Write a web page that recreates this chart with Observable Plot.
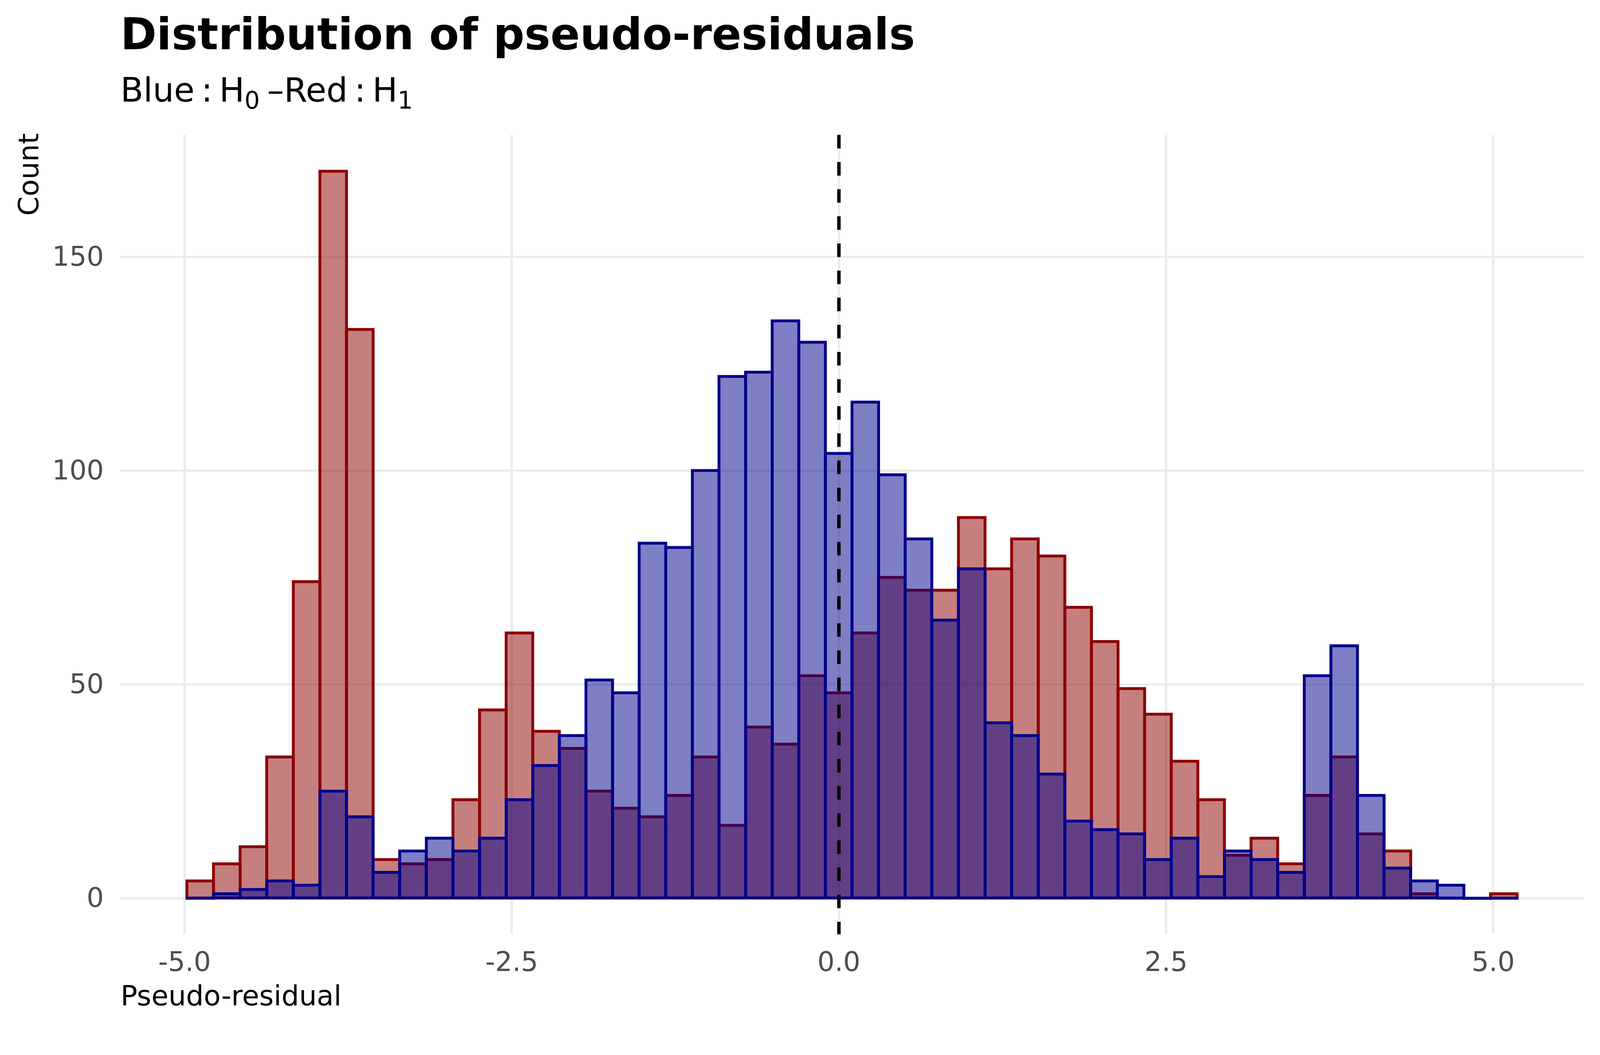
<!DOCTYPE html>
<html><head><meta charset="utf-8">
<script src="https://cdn.jsdelivr.net/npm/d3@7"></script>
<script src="https://cdn.jsdelivr.net/npm/@observablehq/plot@0.6"></script>
<style>
html,body{margin:0;padding:0;background:#fff;width:100%;height:100%;overflow:hidden;}
body{font-family:"DejaVu Sans",sans-serif;}
#root{position:absolute;left:0;top:0;width:4200px;height:2700px;transform-origin:0 0;background:#fff;}
#header{position:relative;width:4200px;height:300px;}
#title{position:absolute;left:316px;top:33px;font-size:114.5px;line-height:114.5px;font-weight:bold;white-space:nowrap;color:#000;}
#subtitle{position:absolute;left:316px;top:193px;font-size:88px;line-height:88px;white-space:nowrap;color:#000;}
.op{display:inline-block;margin:0 0.2em;}
.sb{font-size:0.72em;position:relative;top:0.29em;}
.dash{margin-left:0.22em;}
#chart svg{display:block;max-width:none;}
</style></head><body>
<div id="root">
<div id="header"><div id="title"></div><div id="subtitle"></div></div>
<div id="chart"></div>
</div>
<script>
// ---- text ----
const titleText = "Distribution of pseudo-residuals";
const blueName = "Blue", redName = "Red", hypName = "H", nullSub = "0", altSub = "1";
const xLabel = "Pseudo-residual";
const yLabel = "Count";

// ---- bins (50 bins, shared edges) ----
const binStart = -4.981;
const binWidth = 0.2033;

// Red : H1 counts per bin
const countsH1 = [4, 8, 12, 33, 74, 170, 133, 9, 8, 9, 23, 44, 62, 39, 35, 25, 21, 19, 24, 33, 17, 40, 36, 52, 48,
                  62, 75, 72, 72, 89, 77, 84, 80, 68, 60, 49, 43, 32, 23, 10, 14, 8, 24, 33, 15, 11, 1, 0, 0, 1];
// Blue : H0 counts per bin
const countsH0 = [0, 1, 2, 4, 3, 25, 19, 6, 11, 14, 11, 14, 23, 31, 38, 51, 48, 83, 82, 100, 122, 123, 135, 130, 104,
                  116, 99, 84, 65, 77, 41, 38, 29, 18, 16, 15, 9, 14, 5, 11, 9, 6, 52, 59, 24, 7, 4, 3, 0, 0];

// ---- ticks ----
const xTicks = [-5, -2.5, 0, 2.5, 5];
const xTickLabels = ["-5.0", "-2.5", "0.0", "2.5", "5.0"];
const yTicks = [0, 50, 100, 150];
const refLine = [0];

// ---- colours ----
const redCol = "#8B0000", blueCol = "#00008B";

document.getElementById("title").textContent = titleText;
document.getElementById("subtitle").innerHTML =
  `${blueName}<span class="op">:</span>${hypName}<span class="sb">${nullSub}</span>` +
  `<span class="dash">\u2013</span>${redName}<span class="op">:</span>${hypName}<span class="sb">${altSub}</span>`;

const toBins = counts => counts.map((c, i) => ({x1: binStart + i * binWidth, x2: binStart + (i + 1) * binWidth, count: c}));
const binsH1 = toBins(countsH1);
const binsH0 = toBins(countsH0);

const lo = binStart, hi = binStart + countsH1.length * binWidth;
const padX = 0.05 * (hi - lo);
const maxY = Math.max(...countsH1, ...countsH0);

const barW = 7.5;
const chart = Plot.plot({
  width: 4200, height: 2400,
  marginLeft: 316, marginRight: 43, marginTop: 54, marginBottom: 248,
  style: {fontFamily: "DejaVu Sans", background: "white", overflow: "visible", maxWidth: "none"},
  x: {domain: [lo - padX, hi + padX]},
  y: {domain: [-0.05 * maxY, 1.05 * maxY]},
  marks: [
    Plot.gridX(xTicks, {stroke: "#EBEBEB", strokeOpacity: 1, strokeWidth: 6}),
    Plot.gridY(yTicks, {stroke: "#EBEBEB", strokeOpacity: 1, strokeWidth: 6}),
    Plot.rectY(binsH1, {x1: "x1", x2: "x2", y: "count", inset: 0, fill: redCol, fillOpacity: 0.5, stroke: redCol, strokeWidth: barW}),
    Plot.ruleY(binsH1.filter(d => d.count === 0), {x1: "x1", x2: "x2", y: "count", stroke: redCol, strokeWidth: barW, strokeLinecap: "square"}),
    Plot.rectY(binsH0, {x1: "x1", x2: "x2", y: "count", inset: 0, fill: blueCol, fillOpacity: 0.5, stroke: blueCol, strokeWidth: barW}),
    Plot.ruleY(binsH0.filter(d => d.count === 0), {x1: "x1", x2: "x2", y: "count", stroke: blueCol, strokeWidth: barW, strokeLinecap: "square"}),
    Plot.ruleX(refLine, {stroke: "black", strokeWidth: 9, strokeDasharray: "35.6,35.6"}),
    Plot.axisX({ticks: xTicks, tickSize: 0, tickPadding: 45, tickFormat: d => xTickLabels[xTicks.indexOf(d)], fontSize: 71, color: "#4D4D4D", label: null}),
    Plot.axisY({ticks: yTicks, tickSize: 0, tickPadding: 44, tickFormat: d => String(d), fontSize: 71, color: "#4D4D4D", label: null}),
    Plot.text([xLabel], {frameAnchor: "bottom-left", text: d => d, textAnchor: "start", lineAnchor: "bottom", dy: 186, fontSize: 73, fill: "black"}),
    Plot.text([yLabel], {frameAnchor: "top-left", text: d => d, rotate: -90, textAnchor: "end", lineAnchor: "bottom", dx: -216, dy: -5, fontSize: 73, fill: "black"})
  ]
});
document.getElementById("chart").appendChild(chart);

// fit the 4200x2700 layout to the actual viewport
function fit() {
  const s = Math.min(window.innerWidth / 4200, window.innerHeight / 2700);
  document.getElementById("root").style.transform = `scale(${s})`;
}
fit();
window.addEventListener("resize", fit);
</script>
</body></html>
